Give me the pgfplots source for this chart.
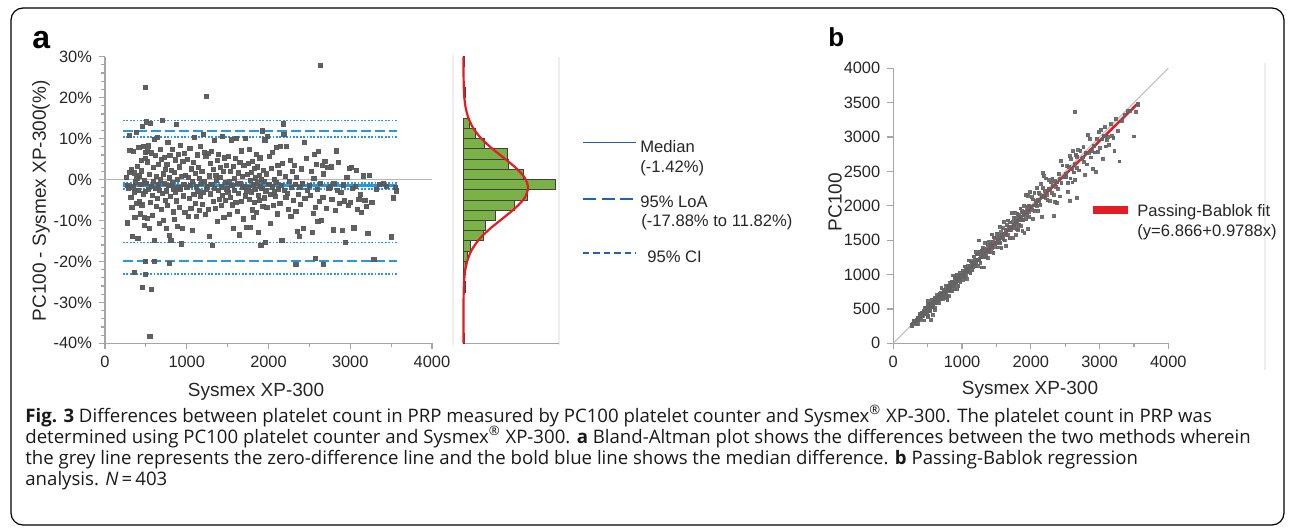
\documentclass[border=0pt]{standalone}
\usepackage{pgfplots}
\pgfplotsset{compat=1.18}
\usepackage{fontspec}
\setmainfont{Liberation Sans}
\newfontfamily\capfont{Open Sans}
\definecolor{ptgray}{RGB}{88,88,88}
\definecolor{ptgrayb}{RGB}{100,100,100}
\definecolor{lblue}{RGB}{40,150,225}
\definecolor{dblue}{RGB}{30,100,180}
\definecolor{hgreen}{RGB}{122,178,72}
\definecolor{cred}{RGB}{228,28,36}
\definecolor{axgray}{RGB}{165,165,165}
\definecolor{faint}{RGB}{238,238,238}
\pgfplotsset{
  common/.style={
    scale only axis, axis lines*=left,
    axis line style={axgray, line width=0.8pt},
    tick style={axgray, line width=0.6pt},
    tick align=outside, major tick length=3pt, minor tick length=1.8pt,
    /pgf/number format/assume math mode=true,
    /pgf/number format/1000 sep={},
    tick label style={font=\fontsize{8.2}{9}\selectfont, black!85},
    clip=false,
  },
}
\begin{document}
\begin{tikzpicture}
\path[use as bounding box] (0pt,0pt) rectangle (646pt,263.5pt);
\draw[black, line width=0.6pt, rounded corners=6pt] (5.5pt,1pt) rectangle (642pt,259.5pt);
% faint frames
\draw[faint, line width=0.6pt] (226.5pt,236pt) -- (226.5pt,91pt);
\draw[faint, line width=0.6pt] (279.5pt,235pt) -- (279.5pt,91pt);
\draw[faint, line width=0.6pt] (632.5pt,232pt) -- (632.5pt,78.5pt);

% ---------------- Panel a: Bland-Altman ----------------
\begin{axis}[common,
  at={(52.5pt,91.85pt)}, anchor=south west,
  width=163.5pt, height=143.3pt,
  xmin=0, xmax=4000, ymin=-40, ymax=30,
  xtick={0,1000,2000,3000,4000}, minor xtick={500,1500,2500,3500},
  ytick={-40,-30,-20,-10,0,10,20,30}, minor y tick num=4,
  yticklabel={\pgfmathprintnumber{\tick}\%},
]
\addplot[color={rgb,255:red,180;green,180;blue,180}, line width=0.7pt] coordinates {(0,0)(4000,0)};
\addplot[only marks, mark=square*, mark size=1.05pt, color=ptgray, opacity=0.95] coordinates {
(262,0.5)(275,-10.6)(288,-2.1)(295,10.7)(305,7.2)(318,-4.3)(322,2.4)(335,-13.9)(341,-1.8)(350,6.9)
(358,1.6)(366,-9.2)(372,-0.6)(380,11.6)(388,-5.8)(395,3.3)(402,-14.3)(410,-2.7)(415,7.9)(423,0.9)
(430,-8.4)(438,-1.1)(445,4.6)(452,-6.2)(460,12.9)(466,-3.5)(472,8.1)(478,-0.2)(485,-11.3)(490,5.2)
(495,-2.9)(270,-1.5)(300,1.8)(330,-6.9)(360,-3.1)(390,0.3)(420,-5.4)(450,2.1)(480,-9.3)(498,6.6)
(505,14.1)(510,-0.9)(515,-9.4)(520,4.3)(528,-2.4)(535,8.2)(540,-12.0)(545,1.2)(552,-5.6)(558,13.8)
(563,-1.6)(570,6.5)(575,-3.9)(582,-8.8)(588,2.9)(594,-0.4)(600,9.8)(606,-14.8)(612,-2.2)(618,5.8)
(625,-6.6)(630,0.7)(637,10.2)(643,-4.7)(650,-1.3)(656,3.7)(662,-10.8)(668,-2.6)(675,7.3)(681,-0.1)
(688,-7.2)(694,4.9)(700,14.5)(706,-3.4)(712,1.4)(718,-9.9)(725,-1.0)(731,5.5)(737,-5.0)(743,2.5)
(748,-11.9)(522,6.8)
(753,-2.8)(758,3.6)(764,-6.3)(770,9.1)(776,-1.5)(783,-13.7)(789,0.4)(795,5.9)(801,-4.1)(807,-14.9)
(814,2.2)(820,-0.8)(826,7.4)(833,-7.9)(839,-2.3)(845,1.7)(851,-9.7)(858,4.8)(864,-3.0)(870,13.4)
(877,-5.2)(883,0.1)(889,-11.5)(895,6.1)(902,-1.9)(908,3.1)(914,-6.8)(921,8.4)(927,-2.5)(933,-15.7)
(939,0.8)(946,-12.0)(952,4.4)(958,-4.0)(964,-1.2)(970,6.4)(977,-8.1)(985,1.0)
(1003,-2.0)(1010,5.0)(1017,-9.1)(1024,0.6)(1031,-4.6)(1038,7.7)(1045,-1.4)(1052,-7.0)(1059,2.6)(1066,-12.4)
(1073,-0.5)(1080,4.1)(1087,-3.6)(1094,10.3)(1101,-5.9)(1108,1.5)(1115,-1.7)(1122,-9.0)(1129,6.0)(1136,-2.9)
(1143,3.0)(1150,-7.5)(1157,0.3)(1164,-4.2)(1171,8.0)(1178,-1.0)(1185,2.0)(1192,-6.0)(1199,11.0)(1206,-3.2)
(1213,6.6)(1220,-0.4)(1227,-8.6)(1234,5.7)(1241,-2.4)
(1252,-1.6)(1259,6.3)(1266,-7.3)(1273,0.9)(1280,-13.8)(1287,4.0)(1294,-3.5)(1301,6.9)(1308,-1.2)(1315,-16.0)
(1322,2.4)(1329,-5.4)(1336,9.5)(1343,-2.1)(1350,-7.1)(1357,1.1)(1364,-0.3)(1371,4.6)(1378,-10.2)(1385,-2.7)
(1392,6.2)(1399,-4.9)(1406,0.5)(1413,2.9)(1420,-6.4)(1427,-1.8)(1434,10.5)(1441,-3.8)(1448,1.9)(1455,-9.3)
(1462,5.3)(1469,-0.7)(1476,-5.0)(1483,3.4)(1492,-2.3)
(1503,-3.1)(1510,5.6)(1517,-0.6)(1524,-8.5)(1531,2.0)(1538,-4.4)(1545,9.7)(1552,-1.5)(1559,-6.2)(1566,3.2)
(1573,-11.9)(1580,0.2)(1587,-2.6)(1594,5.1)(1601,-5.5)(1608,10.1)(1615,-1.0)(1622,-7.7)(1629,1.6)(1636,-3.3)
(1643,-13.5)(1650,4.2)(1657,-0.9)(1664,-5.3)(1671,7.0)(1678,-2.0)(1685,0.8)(1692,-9.6)(1699,3.5)(1706,-1.7)
(1713,-4.0)(1720,10.0)(1727,-2.8)(1734,-11.7)(1741,1.3)
(1752,-1.9)(1758,3.9)(1764,-4.8)(1770,7.3)(1776,-0.2)(1782,-11.6)(1788,1.8)(1794,-3.0)(1800,-7.4)(1806,4.4)
(1812,-1.3)(1818,-9.2)(1824,2.7)(1830,-5.6)(1836,0.4)(1842,-2.4)(1848,6.2)(1854,-8.0)(1860,-0.8)(1866,3.1)
(1872,-3.9)(1878,-13.0)(1884,1.0)(1890,-5.1)(1896,5.3)(1902,-1.6)(1908,-16.0)(1914,0.0)(1920,-2.2)(1926,11.9)
(1932,-6.5)(1938,2.3)(1944,-0.5)(1950,-4.5)(1956,9.7)(1962,-15.4)(1968,-2.8)(1974,1.4)(1980,-6.9)(1990,10.5)
(2004,-1.1)(2012,5.7)(2020,-3.7)(2028,-10.8)(2036,2.8)(2044,-1.8)(2052,6.7)(2060,-6.3)(2068,0.1)(2076,-2.9)
(2084,-4.1)(2092,7.9)(2100,-0.7)(2108,-8.4)(2116,3.5)(2124,-2.3)(2132,1.6)(2140,-5.8)(2148,8.1)(2156,-1.4)
(2164,-14.9)(2172,3.9)(2180,13.6)(2188,11.1)(2196,-2.6)(2204,0.7)(2212,-4.3)(2220,8.0)(2230,-3.3)(2242,-7.2)
(2255,-0.4)(2265,4.7)(2275,-9.0)(2285,-2.0)(2295,1.9)(2305,-5.1)(2315,3.4)(2325,-1.2)(2335,-7.8)(2345,0.5)
(2355,-12.6)(2365,-3.6)(2375,-13.8)(2385,-1.9)(2395,-6.1)(2405,2.6)(2415,-0.9)(2425,-11.9)(2435,9.1)(2445,-4.7)
(2460,5.2)(2480,-2.7)
(2505,-1.5)(2515,-3.9)(2525,2.0)(2535,-13.0)(2545,-8.2)(2555,0.3)(2565,6.1)(2575,-6.8)(2585,3.7)(2595,-2.4)
(2605,-10.2)(2615,6.8)(2625,-5.3)(2635,-1.0)(2645,-10.0)(2655,3.4)(2665,-4.4)(2675,1.4)(2690,4.5)(2705,-7.0)
(2720,3.0)(2740,-2.2)
(2755,-1.8)(2765,3.1)(2775,-4.9)(2790,-12.3)(2800,-1.0)(2815,-7.6)(2830,7.0)(2845,-2.6)(2855,4.2)(2870,-5.8)
(2885,-3.2)(2900,-12.5)(2915,-1.3)(2930,-5.2)(2945,-15.3)(2960,0.5)(2975,-6.3)(2990,2.7)
(3005,-5.5)(3015,3.0)(3030,-2.1)(3045,-11.8)(3060,-1.6)(3075,2.2)(3090,-7.3)(3105,-4.8)(3120,-3.7)(3140,-8.0)
(3160,0.9)(3180,-5.1)(3200,-6.6)(3215,-13.1)(3235,1.0)
(3265,-5.5)(3290,-19.6)(3320,-2.4)(3360,-1.2)(3410,-1.0)(3440,-1.6)(3500,-14.0)(3530,-4.5)(3555,-2.0)(3565,-2.8)
(498,22.6)(1244,20.4)(2638,27.8)(550,-38.3)(453,-26.3)(571,-26.9)(358,-22.7)(498,-23.1)(498,-19.9)(600,-19.9)
(787,-20.4)(2336,-20.8)(2569,-19.2)(2670,-20.7)
};
% median and CI
\addplot[lblue, line width=0.9pt, dash pattern=on 0.9pt off 0.8pt] coordinates {(220,-0.8)(3570,-0.8)};
\addplot[lblue, line width=0.9pt, dash pattern=on 0.9pt off 0.8pt] coordinates {(220,-2.3)(3570,-2.3)};
\addplot[lblue, line width=1.6pt] coordinates {(220,-1.5)(3570,-1.5)};
% limits of agreement
\addplot[lblue, line width=1pt, dash pattern=on 5pt off 2pt] coordinates {(220,11.8)(3570,11.8)};
\addplot[lblue, line width=1pt, dash pattern=on 5pt off 2pt] coordinates {(220,-20.0)(3570,-20.0)};
% CI of limits
\addplot[lblue, line width=0.9pt, dash pattern=on 0.9pt off 0.8pt] coordinates {(220,14.4)(3570,14.4)};
\addplot[lblue, line width=0.9pt, dash pattern=on 0.9pt off 0.8pt] coordinates {(220,10.3)(3570,10.3)};
\addplot[lblue, line width=0.9pt, dash pattern=on 0.9pt off 0.8pt] coordinates {(220,-15.4)(3570,-15.4)};
\addplot[lblue, line width=0.9pt, dash pattern=on 0.9pt off 0.8pt] coordinates {(220,-23.1)(3570,-23.1)};
\end{axis}

% ---------------- Histogram ----------------
\begin{axis}[scale only axis, clip=false,
  at={(231.75pt,91.85pt)}, anchor=south west,
  width=47.75pt, height=143.3pt,
  xmin=0, xmax=78, ymin=-40, ymax=30,
  axis x line*=bottom, axis y line=none,
  axis line style={axgray, line width=0.8pt},
  xtick=\empty, ytick=\empty,
]
\addplot[xbar interval, fill=hgreen, draw=black!75, line width=0.5pt] coordinates {(1,-40)(1,-37.5)};
\addplot[xbar interval, fill=hgreen, draw=black!75, line width=0.5pt] coordinates {
(2,-27.5)(1,-25)(2,-22.5)(3,-20)(6,-17.5)(16,-15)(18,-12.5)(26,-10)(42,-7.5)(52,-5)
(75,-2.5)(49,0)(37,2.5)(36,5)(17,7.5)(10,10)(5,12.5)(5,15)};
\addplot[xbar interval, fill=hgreen, draw=black!75, line width=0.5pt] coordinates {(2,20)(2,22.5)};
\addplot[xbar interval, fill=hgreen, draw=black!75, line width=0.5pt] coordinates {(1,27.5)(1,30)};
\addplot[cred, line width=1.1pt, smooth] coordinates {
(0,-40)(0.01,-32)(0.06,-29.5)(0.2,-27)(0.59,-24.5)(1.5,-22)(3.5,-19.5)(7.1,-17)(13.1,-14.5)(21.7,-12)
(32.0,-9.5)(42.2,-7)(49.9,-4.5)(52.7,-2)(49.9,0.5)(42.2,3)(32.0,5.5)(21.7,8)(13.1,10.5)(7.1,13)
(3.5,15.5)(1.5,18)(0.59,20.5)(0.2,23)(0.06,25.5)(0.01,28)(0,30)};
\end{axis}

% ---------------- Panel b: Passing-Bablok ----------------
\begin{axis}[common,
  at={(446.65pt,91.85pt)}, anchor=south west,
  width=137.5pt, height=137.5pt,
  xmin=0, xmax=4000, ymin=0, ymax=4000,
  xtick={0,1000,2000,3000,4000}, minor xtick={500,1500,2500,3500},
  ytick={0,500,...,4000},
]
\addplot[color={rgb,255:red,190;green,190;blue,190}, line width=0.6pt] coordinates {(0,0)(4000,4000)};
\addplot[only marks, mark=square*, mark size=0.7pt, color=ptgrayb, opacity=0.9] coordinates {
(262,263)(275,246)(288,282)(295,327)(305,327)(318,304)(322,330)(335,288)(341,335)(350,374)
(358,364)(366,332)(372,370)(380,424)(388,366)(395,408)(402,345)(410,399)(415,448)(423,427)
(430,394)(438,433)(445,466)(452,424)(460,519)(466,450)(472,510)(478,477)(485,430)(490,516)
(495,481)(270,266)(300,305)(330,307)(360,349)(390,391)(420,397)(450,460)(480,435)(498,531)
(505,576)(510,505)(515,467)(520,542)(528,515)(535,579)(540,475)(545,552)(552,521)(558,635)
(563,554)(570,607)(575,553)(582,531)(588,605)(594,592)(600,659)(606,516)(612,599)(618,654)
(625,584)(630,634)(637,702)(643,613)(650,642)(656,680)(662,591)(668,651)(675,724)(681,680)
(688,639)(694,728)(700,802)(706,682)(712,722)(718,647)(725,718)(731,771)(737,700)(743,762)
(748,659)(522,558)
(753,732)(758,785)(764,716)(770,840)(776,764)(783,676)(789,792)(795,842)(801,768)(807,687)
(814,832)(820,813)(826,887)(833,767)(839,820)(845,859)(851,768)(858,899)(864,838)(870,987)
(877,831)(883,884)(889,787)(895,950)(902,885)(908,936)(914,852)(921,998)(927,904)(933,786)
(939,947)(946,832)(952,994)(958,920)(964,952)(970,1032)(977,898)(985,995)
(1003,983)(1010,1061)(1017,924)(1024,1030)(1031,984)(1038,1118)(1045,1030)(1052,978)(1059,1087)(1066,934)
(1073,1068)(1080,1124)(1087,1048)(1094,1207)(1101,1036)(1108,1125)(1115,1096)(1122,1021)(1129,1197)(1136,1103)
(1143,1177)(1150,1064)(1157,1160)(1164,1115)(1171,1265)(1178,1166)(1185,1209)(1192,1120)(1199,1331)(1206,1167)
(1213,1293)(1220,1215)(1227,1121)(1234,1304)(1241,1211)
(1252,1232)(1259,1338)(1266,1174)(1273,1284)(1280,1103)(1287,1339)(1294,1249)(1301,1391)(1308,1292)(1315,1105)
(1322,1354)(1329,1257)(1336,1463)(1343,1315)(1350,1254)(1357,1372)(1364,1360)(1371,1434)(1378,1237)(1385,1348)
(1392,1478)(1399,1330)(1406,1413)(1413,1454)(1420,1329)(1427,1401)(1434,1585)(1441,1386)(1448,1476)(1455,1320)
(1462,1540)(1469,1459)(1476,1402)(1483,1533)(1492,1458)
(1503,1456)(1510,1595)(1517,1508)(1524,1395)(1531,1562)(1538,1470)(1545,1695)(1552,1529)(1559,1462)(1566,1616)
(1573,1386)(1580,1583)(1587,1546)(1594,1675)(1601,1513)(1608,1770)(1615,1599)(1622,1497)(1629,1655)(1636,1582)
(1643,1421)(1650,1719)(1657,1642)(1664,1576)(1671,1788)(1678,1644)(1685,1699)(1692,1530)(1699,1759)(1706,1677)
(1713,1645)(1720,1892)(1727,1679)(1734,1531)(1741,1764)
(1752,1719)(1758,1827)(1764,1679)(1770,1899)(1776,1772)(1782,1575)(1788,1820)(1794,1740)(1800,1667)(1806,1886)
(1812,1788)(1818,1651)(1824,1873)(1830,1728)(1836,1843)(1842,1798)(1848,1963)(1854,1706)(1860,1845)(1866,1924)
(1872,1799)(1878,1634)(1884,1903)(1890,1794)(1896,1997)(1902,1872)(1908,1603)(1914,1914)(1920,1878)(1926,2155)
(1932,1806)(1938,1983)(1944,1934)(1950,1862)(1956,2146)(1962,1660)(1968,1913)(1974,2002)(1980,1843)(1990,2199)
(2004,1982)(2012,2127)(2020,1945)(2028,1809)(2036,2093)(2044,2007)(2052,2190)(2060,1930)(2068,2070)(2076,2016)
(2084,1999)(2092,2257)(2100,2085)(2108,1931)(2116,2190)(2124,2075)(2132,2166)(2140,2016)(2148,2322)(2156,2126)
(2164,1842)(2172,2257)(2180,2477)(2188,2431)(2196,2139)(2204,2219)(2212,2117)(2220,2398)(2230,2156)(2242,2081)
(2255,2246)(2265,2372)(2275,2070)(2285,2239)(2295,2339)(2305,2187)(2315,2394)(2325,2297)(2335,2153)(2345,2357)
(2355,2058)(2365,2280)(2375,2047)(2385,2340)(2395,2249)(2405,2468)(2415,2393)(2425,2136)(2435,2657)(2445,2330)
(2460,2588)(2480,2413)
(2505,2467)(2515,2417)(2525,2576)(2535,2205)(2545,2336)(2555,2563)(2565,2722)(2575,2400)(2585,2681)(2595,2533)
(2605,2339)(2615,2793)(2625,2486)(2635,2609)(2645,2381)(2655,2745)(2665,2548)(2675,2713)(2690,2811)(2705,2516)
(2720,2802)(2740,2680)
(2755,2705)(2765,2851)(2775,2639)(2790,2447)(2800,2772)(2815,2601)(2830,3028)(2845,2771)(2855,2975)(2870,2704)
(2885,2793)(2900,2538)(2915,2877)(2930,2778)(2945,2494)(2960,2975)(2975,2788)(2990,3071)
(3005,2840)(3015,3106)(3030,2966)(3045,2686)(3060,3011)(3075,3143)(3090,2864)(3105,2956)(3120,3005)(3140,2889)
(3160,3188)(3180,3018)(3200,2989)(3215,2794)(3235,3267)
(3265,3085)(3290,2645)(3320,3240)(3360,3320)(3410,3376)(3440,3385)(3500,3010)(3530,3371)(3555,3484)(3565,3465)
(498,611)(1244,1498)(2638,3371)(550,339)(453,334)(571,417)(358,277)(498,383)(498,399)(600,481)
(787,627)(2336,1850)(2569,2076)(2670,2117)
};
\addplot[cred, line width=1.3pt] coordinates {(250,251.6)(3560,3491.4)};
\end{axis}

% ---------------- labels ----------------
\node[anchor=base west, inner sep=0pt, font=\fontsize{16}{16}\selectfont\bfseries] at (16pt,239.5pt) {a};
\node[anchor=base west, inner sep=0pt, font=\fontsize{13}{13}\selectfont\bfseries] at (414pt,240.2pt) {b};
\node[rotate=90, inner sep=0pt, font=\fontsize{9.5}{10}\selectfont, black!85] at (20.5pt,163pt) {PC100 - Sysmex XP-300(\%)};
\node[inner sep=0pt, font=\fontsize{9.5}{10}\selectfont, black!85] at (128pt,67.5pt) {Sysmex XP-300};
\node[rotate=90, inner sep=0pt, font=\fontsize{9.5}{10}\selectfont, black!85] at (417.5pt,162.5pt) {PC100};
\node[inner sep=0pt, font=\fontsize{9.5}{10}\selectfont, black!85] at (515pt,68.5pt) {Sysmex XP-300};

% legend a
\draw[dblue, line width=0.7pt] (291.5pt,192.15pt) -- (318pt,192.15pt);
\draw[dblue, line width=1.4pt, dash pattern=on 6.5pt off 2.8pt] (291.5pt,164pt) -- (317pt,164pt);
\draw[dblue, line width=0.7pt, dash pattern=on 3.2pt off 2pt] (291.5pt,137pt) -- (318pt,137pt);
\begin{scope}[every node/.style={anchor=west, inner sep=0pt, font=\fontsize{8.3}{9}\selectfont, black!85}]
\node at (320pt,190pt) {Median};
\node at (320pt,179.5pt) {(-1.42\%)};
\node at (320pt,162.5pt) {95\% LoA};
\node at (320.5pt,152.5pt) {(-17.88\% to 11.82\%)};
\node at (323.5pt,135pt) {95\% CI};
% legend b
\node at (568.5pt,157.5pt) {Passing-Bablok fit};
\node at (568.5pt,147.5pt) {(y=6.866+0.9788x)};
\end{scope}
\draw[cred, line width=4pt] (546.5pt,158.5pt) -- (564pt,158.5pt);

% caption
\begin{scope}[every node/.style={anchor=base west, inner sep=0pt, font=\capfont\fontsize{9.3}{10}\selectfont, black!90}]
\node at (12.5pt,52.5pt) {\textbf{Fig. 3} Differences between platelet count in PRP measured by PC100 platelet counter and Sysmex\textsuperscript{®} XP-300. The platelet count in PRP was};
\node at (12.5pt,42pt) {determined using PC100 platelet counter and Sysmex\textsuperscript{®} XP-300. \textbf{a} Bland-Altman plot shows the differences between the two methods wherein};
\node at (12.5pt,31.5pt) {the grey line represents the zero-difference line and the bold blue line shows the median difference. \textbf{b} Passing-Bablok regression};
\node at (12.5pt,21pt) {analysis. \textit{N}\,=\,403};
\end{scope}
\end{tikzpicture}
\end{document}
